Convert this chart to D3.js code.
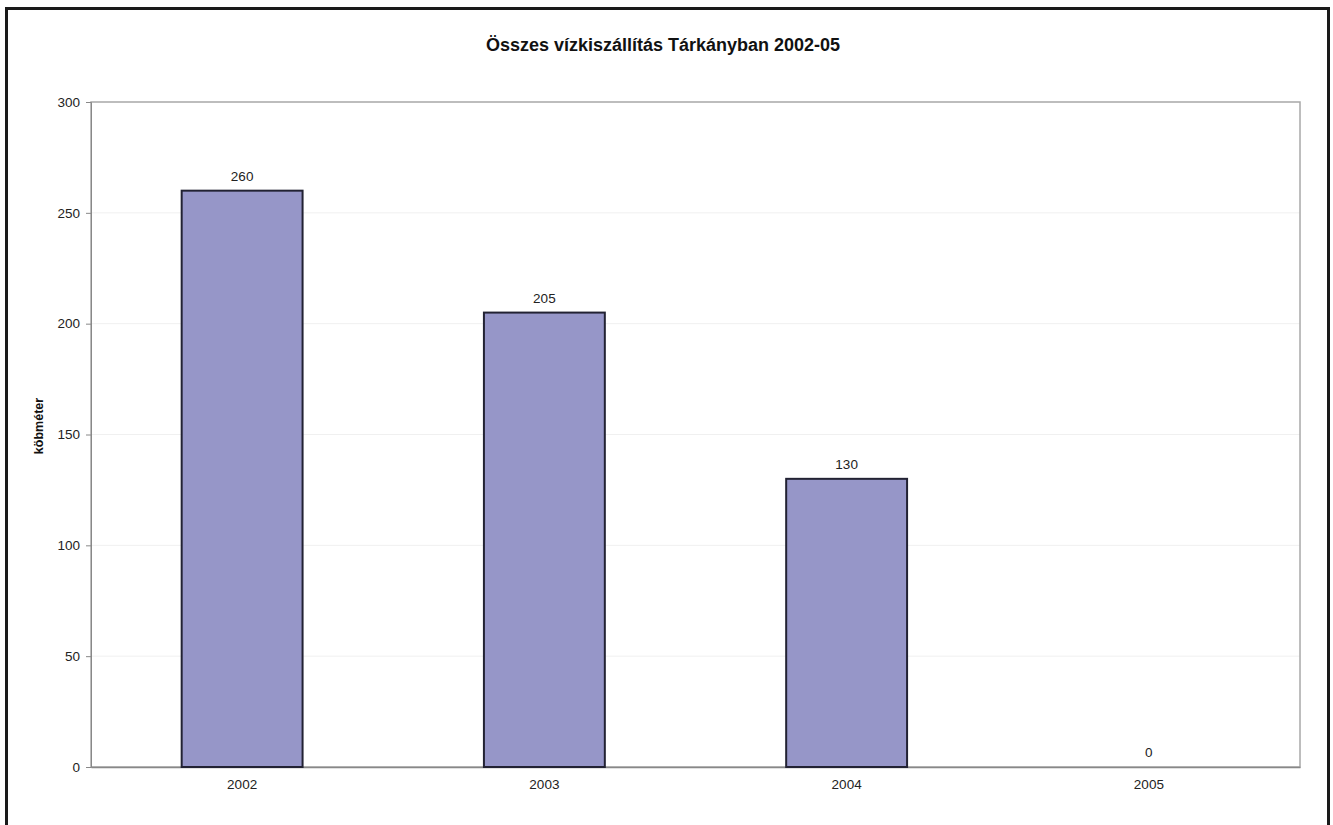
<!DOCTYPE html>
<html>
<head>
<meta charset="utf-8">
<script src="https://cdn.jsdelivr.net/npm/d3@7"></script>
<style>
  body { margin: 0; background: #fff; }
  svg { display: block; font-family: "Liberation Sans", Arial, sans-serif; }
</style>
</head>
<body>
<svg id="chart" width="1333" height="825"></svg>
<script>
const years = ["2002", "2003", "2004", "2005"];
const volumes = [260, 205, 130, 0];
const yTicks = [0, 50, 100, 150, 200, 250, 300];

const svg = d3.select("#chart");
const margin = { left: 91, top: 102, right: 1300, bottom: 767 };

// outer frame
svg.append("rect")
  .attr("x", 6.5).attr("y", 8.5)
  .attr("width", 1322).attr("height", 830)
  .attr("fill", "#fff")
  .attr("stroke", "#1a1a1a")
  .attr("stroke-width", 3);

const x = d3.scaleBand().domain(years).range([margin.left, margin.right]);
const y = d3.scaleLinear().domain([0, 300]).range([margin.bottom, margin.top]);

// gridlines
svg.append("g")
  .selectAll("line")
  .data(yTicks.filter(d => d > 0 && d < 300))
  .enter()
  .append("line")
  .attr("x1", margin.left).attr("x2", margin.right)
  .attr("y1", d => y(d)).attr("y2", d => y(d))
  .attr("stroke", "#f0f0f0");

// plot border
svg.append("rect")
  .attr("x", margin.left).attr("y", margin.top)
  .attr("width", margin.right - margin.left)
  .attr("height", margin.bottom - margin.top)
  .attr("fill", "none")
  .attr("stroke", "#a8a8a8")
  .attr("stroke-width", 1.5);

// y axis
const yAxis = svg.append("g")
  .attr("transform", `translate(${margin.left},0)`)
  .call(d3.axisLeft(y).tickValues(yTicks).tickSize(5).tickPadding(6));
yAxis.select(".domain").attr("stroke", "#888");
yAxis.selectAll(".tick line").attr("stroke", "#888");
yAxis.selectAll("text").attr("font-size", 13.5).attr("fill", "#222")
  .attr("font-family", "Liberation Sans, Arial, sans-serif");

// x axis
const xAxis = svg.append("g")
  .attr("transform", `translate(0,${margin.bottom})`)
  .call(d3.axisBottom(x).tickSize(0).tickPadding(12));
xAxis.select(".domain").attr("stroke", "#888").attr("stroke-width", 1.5);
xAxis.selectAll("text").attr("font-size", 13.5).attr("fill", "#222")
  .attr("font-family", "Liberation Sans, Arial, sans-serif");

// bars
const barW = x.bandwidth() * 0.4;
svg.append("g")
  .selectAll("rect")
  .data(years)
  .enter()
  .append("rect")
  .attr("x", (d) => x(d) + (x.bandwidth() - barW) / 2)
  .attr("y", (d, i) => y(volumes[i]))
  .attr("width", barW)
  .attr("height", (d, i) => y(0) - y(volumes[i]))
  .attr("fill", (d, i) => volumes[i] > 0 ? "#9696c8" : "none")
  .attr("stroke", (d, i) => volumes[i] > 0 ? "#222233" : "none")
  .attr("stroke-width", 2);

// value labels
svg.append("g")
  .selectAll("text")
  .data(years)
  .enter()
  .append("text")
  .attr("x", (d) => x(d) + x.bandwidth() / 2)
  .attr("y", (d, i) => y(volumes[i]) - 10)
  .attr("text-anchor", "middle")
  .attr("font-size", 13.5)
  .attr("fill", "#222")
  .text((d, i) => volumes[i]);

// title
svg.append("text")
  .attr("x", 663).attr("y", 51)
  .attr("text-anchor", "middle")
  .attr("font-size", 18)
  .attr("font-weight", "bold")
  .attr("fill", "#111")
  .text("Összes vízkiszállítás Tárkányban 2002-05");

// y label
svg.append("text")
  .attr("transform", "translate(43,426) rotate(-90)")
  .attr("text-anchor", "middle")
  .attr("font-size", 12.5)
  .attr("font-weight", "bold")
  .attr("fill", "#111")
  .text("köbméter");
</script>
</body>
</html>
